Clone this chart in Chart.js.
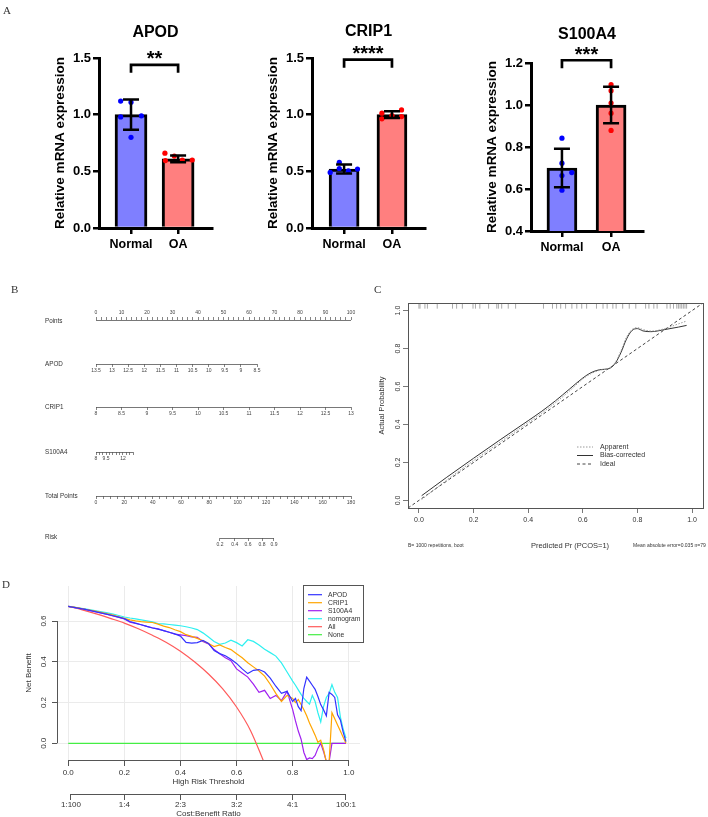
<!DOCTYPE html>
<html lang="en">
<head>
<meta charset="UTF-8">
<title>qPCR validation, nomogram, calibration and decision curves</title>
<script src="https://cdn.jsdelivr.net/npm/chart.js"></script>
<style>
  html, body { margin: 0; padding: 0; background: #fff; overflow: hidden; }
  body { width: 708px; height: 817px; position: relative; font-family: "Liberation Sans", Arial, sans-serif; }
  canvas { position: absolute; }
  .lbl { position: absolute; white-space: nowrap; line-height: 1; transform: translateY(-50%); color: #333; will-change: transform; }
  .panel { font-family: "Liberation Serif", "DejaVu Serif", serif; font-size: 11px; }
  .nomo { font-size: 6.3px; }
  .small { font-size: 5px; }
  .mid { transform: translate(-50%, -50%); }
</style>
</head>
<body>
  <div class="lbl panel" style="left:3px;top:10px">A</div>
  <div class="lbl panel" style="left:11px;top:289px">B</div>
  <div class="lbl panel" style="left:374px;top:289px">C</div>
  <div class="lbl panel" style="left:2px;top:584px">D</div>

  <div class="lbl nomo" style="left:45px;top:321px">Points</div>
  <div class="lbl nomo" style="left:45px;top:364px">APOD</div>
  <div class="lbl nomo" style="left:45px;top:407px">CRIP1</div>
  <div class="lbl nomo" style="left:45px;top:452px">S100A4</div>
  <div class="lbl nomo" style="left:45px;top:496px">Total Points</div>
  <div class="lbl nomo" style="left:45px;top:537px">Risk</div>

  <div class="lbl mid" style="left:570px;top:546px;font-size:7.5px">Predicted Pr (PCOS=1)</div>
  <div class="lbl small" style="left:408px;top:545px">B= 1000 repetitions, boot</div>
  <div class="lbl small" style="left:633px;top:545px">Mean absolute error=0.035 n=79</div>

<script>
Chart.defaults.font.family = "'Liberation Sans', Arial, sans-serif";
Chart.defaults.color = '#333';

// ---------- A: qPCR bars ----------
const groups = ['Normal', 'OA'];

const apodMean = [1.0, 0.61];
const apodSd = [0.133, 0.03];
const apodNormal = [1.12, 1.11, 0.98, 0.99, 0.80];
const apodOA = [0.66, 0.635, 0.595, 0.60, 0.60];

const crip1Mean = [0.52, 1.0];
const crip1Sd = [0.04, 0.03];
const crip1Normal = [0.49, 0.58, 0.525, 0.505, 0.52];
const crip1OA = [1.013, 0.963, 0.992, 1.042, 0.983];

const s100Mean = [0.70, 1.0];
const s100Sd = [0.092, 0.087];
const s100Normal = [0.842, 0.723, 0.664, 0.678, 0.594];
const s100OA = [1.097, 1.068, 1.009, 0.961, 0.879];

// sideways spread of the dots inside each bar
const apodJitter = [[-0.22, 0, -0.22, 0.22, 0], [-0.28, -0.08, -0.27, 0.09, 0.30]];
const crip1Jitter = [[-0.29, -0.1, -0.1, 0.09, 0.28], [-0.21, -0.21, 0, 0.2, 0.2]];
const s100Jitter = [[0, 0, 0, 0.2, 0], [0, 0, 0, 0, 0]];

const ticks15 = [0, 0.5, 1.0, 1.5];
const ticks12 = [0.4, 0.6, 0.8, 1.0, 1.2];

// ---------- B: nomogram axes ----------
const pointsLabels = [0, 10, 20, 30, 40, 50, 60, 70, 80, 90, 100];
const apodAxis = [13.5, 13, 12.5, 12, 11.5, 11, 10.5, 10, 9.5, 9, 8.5];
const crip1Axis = [8, 8.5, 9, 9.5, 10, 10.5, 11, 11.5, 12, 12.5, 13];
const s100Axis = [8, 8.5, 9, 9.5, 10, 10.5, 11, 11.5, 12, 12.5, 13, 13.5];
const s100AxisLabels = [8, 9.5, 12];
const totalLabels = [0, 20, 40, 60, 80, 100, 120, 140, 160, 180];
const riskLabels = [0.2, 0.4, 0.6, 0.8, 0.9];
const riskAtTotal = [87.5, 98, 107.3, 117.2, 125.6];

// ---------- C: calibration ----------
const calPred = [0.01, 0.1, 0.2, 0.3, 0.4, 0.45, 0.5, 0.55, 0.6, 0.63, 0.66, 0.7, 0.72, 0.74, 0.76, 0.78, 0.8, 0.82, 0.85, 0.9, 0.95, 0.98];
const calBias = [0.025, 0.12, 0.222, 0.322, 0.42, 0.47, 0.525, 0.585, 0.645, 0.673, 0.688, 0.697, 0.725, 0.78, 0.85, 0.895, 0.905, 0.893, 0.889, 0.9, 0.913, 0.922];
const calApparent = [0.005, 0.105, 0.21, 0.31, 0.41, 0.46, 0.515, 0.575, 0.64, 0.668, 0.685, 0.70, 0.73, 0.79, 0.86, 0.9, 0.91, 0.9, 0.892, 0.905, 0.93, 0.945];
const calRug = [0.0, 0.004, 0.022, 0.031, 0.067, 0.123, 0.138, 0.159, 0.198, 0.207, 0.223, 0.255, 0.285, 0.291, 0.303, 0.327, 0.354,
  0.456, 0.489, 0.504, 0.519, 0.537, 0.56, 0.578, 0.596, 0.614, 0.65, 0.674, 0.689, 0.71, 0.722, 0.746, 0.77, 0.794, 0.83, 0.842,
  0.86, 0.872, 0.908, 0.92, 0.932, 0.944, 0.95, 0.956, 0.962, 0.968, 0.974, 0.98];
const calTicks = [0, 0.2, 0.4, 0.6, 0.8, 1.0];

// ---------- D: decision curves ----------
const thresholds = [0, 0.02, 0.04, 0.06, 0.08, 0.10, 0.12, 0.14, 0.16, 0.18, 0.20, 0.22, 0.24, 0.26, 0.28, 0.30, 0.32, 0.34, 0.36, 0.38,
  0.40, 0.42, 0.44, 0.46, 0.48, 0.50, 0.52, 0.54, 0.56, 0.58, 0.60, 0.62, 0.64, 0.66, 0.68, 0.70, 0.72, 0.74, 0.76, 0.78, 0.80,
  0.81, 0.82, 0.83, 0.84, 0.85, 0.86, 0.87, 0.88, 0.89, 0.90, 0.91, 0.92, 0.93, 0.94, 0.95, 0.96, 0.97, 0.98, 0.99];
const nbApod = [0.672, 0.667, 0.662, 0.657, 0.651, 0.645, 0.639, 0.633, 0.626, 0.619,
  0.612, 0.598, 0.590, 0.582, 0.574, 0.566, 0.560, 0.553, 0.545, 0.537,
  0.526, 0.495, 0.492, 0.494, 0.505, 0.490, 0.455, 0.440, 0.430, 0.412,
  0.392, 0.365, 0.342, 0.358, 0.362, 0.350, 0.320, 0.280, 0.245, 0.255,
  0.205,
  0.220, 0.180, 0.160, 0.270, 0.325, 0.305, 0.285, 0.265, 0.230, 0.190,
  0.165, 0.135, 0.250, 0.240, 0.225, 0.140, 0.115, 0.055, 0.008];
const nbCrip1 = [0.672, 0.668, 0.663, 0.658, 0.653, 0.648, 0.642, 0.636, 0.629, 0.621,
  0.613, 0.606, 0.601, 0.597, 0.595, 0.593, 0.585, 0.575, 0.568, 0.557,
  0.548, 0.533, 0.525, 0.515, 0.503, 0.490, 0.475, 0.483, 0.470, 0.460,
  0.440, 0.420, 0.395, 0.375, 0.355, 0.330, 0.290, 0.245, 0.205, 0.235,
  0.220,
  0.200, 0.215, 0.190, 0.165, 0.135, 0.100, 0.070, 0.040, 0.005, 0.015,
  -0.030, -0.090, -0.090, 0.150, 0.120, 0.090, 0.060, 0.030, 0.000];
const nbS100 = [0.672, 0.667, 0.662, 0.657, 0.651, 0.645, 0.639, 0.632, 0.625, 0.618,
  0.610, 0.595, 0.588, 0.582, 0.574, 0.567, 0.562, 0.553, 0.545, 0.536,
  0.532, 0.528, 0.522, 0.520, 0.500, 0.488, 0.460, 0.440, 0.420, 0.405,
  0.365, 0.345, 0.325, 0.290, 0.250, 0.260, 0.220, 0.235, 0.210, 0.255,
  0.165,
  0.110, 0.060, 0.020, -0.045, -0.080, -0.072, -0.075, -0.060, -0.025, 0.000,
  -0.040, -0.090, -0.090, 0.000, 0.000, 0.000, 0.000, 0.000, 0.000];
const nbNomogram = [0.672, 0.668, 0.664, 0.660, 0.655, 0.650, 0.645, 0.640, 0.634, 0.627,
  0.620, 0.615, 0.611, 0.606, 0.601, 0.596, 0.588, 0.586, 0.583, 0.580,
  0.577, 0.572, 0.566, 0.558, 0.542, 0.522, 0.500, 0.486, 0.492, 0.506,
  0.494, 0.478, 0.508, 0.500, 0.482, 0.462, 0.445, 0.428, 0.395, 0.350,
  0.305,
  0.285, 0.262, 0.240, 0.220, 0.205, 0.192, 0.235, 0.205, 0.150, 0.105,
  0.180, 0.225, 0.245, 0.288, 0.250, 0.225, 0.130, 0.070, 0.025];
const allT = [0, 0.05, 0.10, 0.15, 0.20, 0.25, 0.30, 0.35, 0.40, 0.45, 0.50, 0.55, 0.60, 0.65, 0.70];
const nbAll = [0.672, 0.655, 0.635, 0.613, 0.590, 0.562, 0.530, 0.495, 0.452, 0.400, 0.340, 0.268, 0.178, 0.062, -0.100];
const noneT = [0, 0.99];
const nbNone = [0, 0];
const dcaXTicks = [0, 0.2, 0.4, 0.6, 0.8, 1.0];
const dcaYTicks = [0, 0.2, 0.4, 0.6];
const ratioAt = [0.0099, 0.2, 0.4, 0.6, 0.8, 0.99];
const ratioLabels = ['1:100', '1:4', '2:3', '3:2', '4:1', '100:1'];

// ---------- helpers ----------
function makeCanvas(left, top, w, h) {
  const c = document.createElement('canvas');
  c.width = w; c.height = h;
  c.style.left = left + 'px'; c.style.top = top + 'px';
  c.style.width = w + 'px'; c.style.height = h + 'px';
  document.body.appendChild(c);
  return c;
}
const setTicks = vals => s => { s.ticks = vals.map(v => ({ value: v })); };
const pairs = (xs, ys) => xs.map((x, i) => ({ x: x, y: ys[i] }));
function steps(a, b, d) { const out = []; for (let v = a; v <= b; v += d) out.push(v); return out; }

// error bars, significance bracket and gene title
const qpcrMarks = {
  id: 'qpcrMarks',
  afterDraw(chart, args, o) {
    if (!o.mean) return;
    const { ctx, chartArea: a } = chart;
    const xs = chart.scales.x, ys = chart.scales.y;
    ctx.save();
    ctx.strokeStyle = '#000'; ctx.fillStyle = '#000'; ctx.lineWidth = 2.5;
    o.mean.forEach((m, i) => {
      const px = xs.getPixelForValue(i);
      const hi = ys.getPixelForValue(m + o.sd[i]);
      const lo = ys.getPixelForValue(m - o.sd[i]);
      ctx.beginPath();
      ctx.moveTo(px, hi); ctx.lineTo(px, lo);
      ctx.moveTo(px - 8, hi); ctx.lineTo(px + 8, hi);
      ctx.moveTo(px - 8, lo); ctx.lineTo(px + 8, lo);
      ctx.stroke();
    });
    const x0 = xs.getPixelForValue(0), x1 = xs.getPixelForValue(1);
    const by = ys.getPixelForValue(o.bracket);
    ctx.lineWidth = 2.7;
    ctx.beginPath();
    ctx.moveTo(x0, by + 8); ctx.lineTo(x0, by); ctx.lineTo(x1, by); ctx.lineTo(x1, by + 8);
    ctx.stroke();
    ctx.textAlign = 'center';
    ctx.textBaseline = 'alphabetic';
    ctx.font = "bold 20px 'Liberation Sans', Arial";
    ctx.fillText(o.stars, (x0 + x1) / 2, by + 0.5);
    ctx.textBaseline = 'middle';
    ctx.font = "bold 16px 'Liberation Sans', Arial";
    ctx.fillText(o.title, (a.left + a.right) / 2, a.top - o.titleGap);
    ctx.restore();
  }
};

// R style axis line: only from first to last tick
const rAxis = {
  id: 'rAxis',
  afterDraw(chart, args, o) {
    if (!o.scales) return;
    const ctx = chart.ctx;
    ctx.save();
    ctx.strokeStyle = o.color || '#555';
    ctx.lineWidth = o.width || 1;
    o.scales.forEach(id => {
      const s = chart.scales[id];
      const px = s.ticks.map(t => s.getPixelForValue(t.value));
      const a = Math.min(...px), b = Math.max(...px);
      ctx.beginPath();
      if (s.isHorizontal()) {
        const y = Math.round(s.position === 'top' ? s.bottom : s.top) + 0.5;
        ctx.moveTo(a, y); ctx.lineTo(b, y);
      } else {
        const x = Math.round(s.right) + 0.5;
        ctx.moveTo(x, a); ctx.lineTo(x, b);
      }
      ctx.stroke();
    });
    ctx.restore();
  }
};

// y tick labels written along the axis (R las=0)
const rotY = {
  id: 'rotY',
  afterDraw(chart, args, o) {
    if (!o.scale) return;
    const s = chart.scales[o.scale], ctx = chart.ctx;
    ctx.save();
    ctx.font = o.font; ctx.fillStyle = '#333';
    ctx.textAlign = 'center'; ctx.textBaseline = 'middle';
    s.ticks.forEach(t => {
      ctx.save();
      ctx.translate(chart.chartArea.left - o.gap, s.getPixelForValue(t.value));
      ctx.rotate(-Math.PI / 2);
      ctx.fillText(t.value.toFixed(1), 0, 0);
      ctx.restore();
    });
    ctx.restore();
  }
};

const boxLegend = {
  id: 'boxLegend',
  afterDraw(chart, args, o) {
    const { ctx, chartArea: a } = chart;
    ctx.save();
    if (o.frame) {
      ctx.strokeStyle = '#555'; ctx.lineWidth = 1;
      ctx.strokeRect(Math.round(a.left) + 0.5, Math.round(a.top) + 0.5, Math.round(a.right - a.left), Math.round(a.bottom - a.top));
    }
    if (o.rows) {
      const ox = a.left + o.x, oy = a.top + o.y;
      if (o.w) {
        ctx.fillStyle = '#fff'; ctx.fillRect(ox, oy, o.w, o.h);
        ctx.strokeStyle = '#555'; ctx.lineWidth = 1;
        ctx.strokeRect(Math.round(ox) + 0.5, Math.round(oy) + 0.5, o.w, o.h);
      }
      ctx.font = o.font; ctx.textBaseline = 'middle'; ctx.textAlign = 'left';
      o.rows.forEach((di, k) => {
        const ds = chart.data.datasets[di];
        const y = oy + o.r0 + k * o.step;
        ctx.strokeStyle = ds.borderColor; ctx.lineWidth = ds.borderWidth;
        ctx.setLineDash(ds.borderDash || []);
        ctx.beginPath(); ctx.moveTo(ox + o.l0, y); ctx.lineTo(ox + o.l1, y); ctx.stroke();
        ctx.setLineDash([]);
        ctx.fillStyle = '#333';
        ctx.fillText(ds.label, ox + o.tx, y);
      });
    }
    ctx.restore();
  }
};

const base = { responsive: false, animation: false, devicePixelRatio: 1, events: [] };

// ---------- A ----------
function qpcrChart(box, g) {
  const c = makeCanvas(box.left, box.top, box.w, box.h);
  const axisFont = { size: 13, weight: 'bold' };
  const blackGrid = { drawOnChartArea: false, tickLength: 6, lineWidth: 2.5, color: '#000', offset: false };
  const blackBorder = { width: 3, color: '#000' };
  return new Chart(c, {
    type: 'scatter',
    data: {
      datasets: [
        { type: 'bar', data: pairs([0, 1], g.mean), backgroundColor: ['#7f7fff', '#ff7f7f'],
          borderColor: '#000', borderWidth: 3, barThickness: box.bar, order: 3 },
        { data: g.normal.map((v, i) => ({ x: 0 + g.jitter[0][i], y: v })), backgroundColor: '#0000ff',
          borderWidth: 0, pointRadius: 2.6, order: 1 },
        { data: g.oa.map((v, i) => ({ x: 1 + g.jitter[1][i], y: v })), backgroundColor: '#ff0000',
          borderWidth: 0, pointRadius: 2.6, order: 2 }
      ]
    },
    options: Object.assign({}, base, {
      layout: { padding: box.pad },
      plugins: {
        legend: { display: false }, tooltip: { enabled: false },
        qpcrMarks: { mean: g.mean, sd: g.sd, bracket: g.bracket, stars: g.stars, title: g.title, titleGap: box.titleGap }
      },
      scales: {
        x: {
          type: 'linear', offset: false, min: box.xmin, max: box.xmax,
          afterBuildTicks: setTicks([0, 1]),
          afterFit: s => { s.height = box.xh; },
          ticks: { callback: v => groups[v], font: { size: 12.5, weight: 'bold' }, color: '#000', padding: 3, autoSkip: false, maxRotation: 0 },
          grid: blackGrid, border: blackBorder
        },
        y: {
          min: g.ymin, max: g.ymax,
          afterBuildTicks: setTicks(g.yticks),
          afterFit: s => { s.width = 47.1; },
          ticks: { callback: v => v.toFixed(1), font: axisFont, color: '#000', padding: 2 },
          grid: blackGrid, border: blackBorder,
          title: { display: true, text: 'Relative mRNA expression', font: { size: 13.5, weight: 'bold' }, color: '#000', padding: 0 }
        }
      }
    }),
    plugins: [qpcrMarks]
  });
}

qpcrChart({ left: 45, top: 20, w: 180, h: 245, pad: { left: 6.9, top: 38, right: 13, bottom: 0 }, xh: 37,
  xmin: -0.68, xmax: 1.72, bar: 32, titleGap: 25 },
  { title: 'APOD', mean: apodMean, sd: apodSd, normal: apodNormal, oa: apodOA, jitter: apodJitter,
    ymin: 0, ymax: 1.5, yticks: ticks15, bracket: 1.44, stars: '**' });

qpcrChart({ left: 255, top: 20, w: 185, h: 245, pad: { left: 9.9, top: 38, right: 15, bottom: 0 }, xh: 37,
  xmin: -0.67, xmax: 1.69, bar: 30, titleGap: 26 },
  { title: 'CRIP1', mean: crip1Mean, sd: crip1Sd, normal: crip1Normal, oa: crip1OA, jitter: crip1Jitter,
    ymin: 0, ymax: 1.5, yticks: ticks15, bracket: 1.485, stars: '****' });

qpcrChart({ left: 475, top: 20, w: 190, h: 245, pad: { left: 8.9, top: 43, right: 22, bottom: 0 }, xh: 34,
  xmin: -0.63, xmax: 1.65, bar: 30, titleGap: 28 },
  { title: 'S100A4', mean: s100Mean, sd: s100Sd, normal: s100Normal, oa: s100OA, jitter: s100Jitter,
    ymin: 0.4, ymax: 1.2, yticks: ticks12, bracket: 1.213, stars: '***' });

// ---------- B ----------
function nomoRow(r) {
  const H = 16, A = 4;
  const c = makeCanvas(86, r.top ? r.line - H : r.line - A, 280, H + A);
  new Chart(c, {
    type: 'scatter',
    data: { datasets: [] },
    options: Object.assign({}, base, {
      layout: { padding: { left: r.left - 86, right: 366 - r.right, top: 0, bottom: 0 } },
      plugins: { legend: { display: false }, tooltip: { enabled: false }, rAxis: { scales: ['x'], color: '#555', width: 0.8 } },
      scales: {
        x: {
          type: 'linear', position: r.top ? 'top' : 'bottom', min: r.min, max: r.max, reverse: !!r.reverse,
          afterBuildTicks: setTicks(r.ticks),
          afterFit: s => { s.height = H; },
          ticks: { autoSkip: false, maxRotation: 0, minRotation: 0, padding: 1, font: { size: 5 }, color: '#444', callback: r.label },
          grid: { drawOnChartArea: false, tickLength: 3, color: '#666', lineWidth: 0.8 },
          border: { display: false }
        },
        y: { display: false }
      }
    }),
    plugins: [rAxis]
  });
}

nomoRow({ line: 320, left: 96, right: 351, min: 0, max: 100, top: true, ticks: steps(0, 100, 2),
  label: v => pointsLabels.includes(v) ? String(v) : '' });
nomoRow({ line: 364, left: 96, right: 257, min: 8.5, max: 13.5, reverse: true, ticks: apodAxis, label: v => String(v) });
nomoRow({ line: 407, left: 96, right: 351, min: 8, max: 13, ticks: crip1Axis, label: v => String(v) });
nomoRow({ line: 452, left: 96, right: 133, min: 8, max: 13.5, ticks: s100Axis,
  label: v => s100AxisLabels.includes(v) ? String(v) : '' });
nomoRow({ line: 496, left: 96, right: 351, min: 0, max: 180, ticks: steps(0, 180, 5),
  label: v => totalLabels.includes(v) ? String(v) : '' });
nomoRow({ line: 538, left: 96, right: 351, min: 0, max: 180, ticks: riskAtTotal, label: (v, i) => String(riskLabels[i]) });

// ---------- C ----------
(function () {
  const c = makeCanvas(370, 295, 338, 260);
  const thin = { drawOnChartArea: false, tickLength: 5, color: '#555', lineWidth: 0.8 };
  new Chart(c, {
    type: 'scatter',
    data: {
      datasets: [
        { label: 'Apparent', data: pairs(calPred, calApparent), showLine: true, borderColor: '#9a9a9a', borderWidth: 1,
          borderDash: [1.5, 1.5], pointRadius: 0, cubicInterpolationMode: 'monotone' },
        { label: 'Bias-corrected', data: pairs(calPred, calBias), showLine: true, borderColor: '#333', borderWidth: 1,
          pointRadius: 0, cubicInterpolationMode: 'monotone' },
        { label: 'Ideal', data: pairs([-0.04, 1.04], [-0.04, 1.04]), showLine: true, borderColor: '#444', borderWidth: 1,
          borderDash: [3, 2.5], pointRadius: 0 },
        { label: 'rug', data: calRug.map(v => ({ x: v, y: 1.026 })), pointStyle: 'line', rotation: 90, pointRadius: 3,
          borderColor: '#aaa', borderWidth: 1 }
      ]
    },
    options: Object.assign({}, base, {
      layout: { padding: { left: 7.5, top: 8, right: 1, bottom: 0 } },
      plugins: {
        legend: { display: false }, tooltip: { enabled: false },
        rotY: { scale: 'y', gap: 10, font: "7px 'Liberation Sans', Arial" },
        boxLegend: { frame: true, rows: [0, 1, 2], x: 169, y: 140, r0: 4, step: 8.5, l0: 0, l1: 16, tx: 23,
          font: "7px 'Liberation Sans', Arial" }
      },
      scales: {
        x: {
          type: 'linear', min: -0.04, max: 1.04,
          afterBuildTicks: setTicks(calTicks),
          afterFit: s => { s.height = 47; },
          ticks: { callback: v => v.toFixed(1), font: { size: 7 }, color: '#333', padding: 3, maxRotation: 0, autoSkip: false },
          grid: thin, border: { color: '#555', width: 1 }
        },
        y: {
          type: 'linear', min: -0.04, max: 1.04,
          afterBuildTicks: setTicks(calTicks),
          afterFit: s => { s.width = 30.5; },
          ticks: { display: false },
          grid: thin, border: { color: '#555', width: 1 },
          title: { display: true, text: 'Actual Probability', font: { size: 7.5 }, color: '#333', padding: 0 }
        }
      }
    }),
    plugins: [rotY, boxLegend]
  });
})();

// ---------- D ----------
(function () {
  const c = makeCanvas(15, 578, 350, 242);
  const curve = (label, xs, ys, color) => ({ label: label, data: pairs(xs, ys), showLine: true, borderColor: color,
    borderWidth: 1.2, pointRadius: 0 });
  const all = curve('All', allT, nbAll, '#ff5a5a');
  all.cubicInterpolationMode = 'monotone';
  new Chart(c, {
    type: 'scatter',
    data: {
      datasets: [
        curve('APOD', thresholds, nbApod, '#3333ff'),
        curve('CRIP1', thresholds, nbCrip1, '#ffa500'),
        curve('S100A4', thresholds, nbS100, '#a020f0'),
        curve('nomogram', thresholds, nbNomogram, '#2ef0f0'),
        all,
        curve('None', noneT, nbNone, '#44ee44')
      ]
    },
    options: Object.assign({}, base, {
      layout: { padding: { left: 9.2, top: 8, right: 5, bottom: 0 } },
      plugins: {
        legend: { display: false }, tooltip: { enabled: false },
        rAxis: { scales: ['x', 'x2', 'y'], color: '#555', width: 1 },
        rotY: { scale: 'y', gap: 13.7, font: "8px 'Liberation Sans', Arial" },
        boxLegend: { rows: [0, 1, 2, 3, 4, 5], x: 246, y: -1, w: 60, h: 57, r0: 9.7, step: 8, l0: 5, l1: 19, tx: 25,
          font: "6.8px 'Liberation Sans', Arial" }
      },
      scales: {
        x: {
          type: 'linear', position: 'bottom', weight: 0, min: -0.04, max: 1.04,
          afterBuildTicks: setTicks(dcaXTicks),
          afterFit: s => { s.height = 34; },
          ticks: { callback: v => v.toFixed(1), font: { size: 8 }, color: '#333', padding: 2, maxRotation: 0, autoSkip: false },
          grid: { color: '#ebebeb', tickColor: '#555', tickLength: 6, lineWidth: 1 },
          border: { display: false },
          title: { display: true, text: 'High Risk Threshold', font: { size: 8 }, color: '#333', padding: { top: 0, bottom: 7.2 } }
        },
        x2: {
          type: 'linear', position: 'bottom', weight: 1, min: -0.04, max: 1.04,
          afterBuildTicks: setTicks(ratioAt),
          afterFit: s => { s.height = 26; },
          ticks: { callback: (v, i) => ratioLabels[i], font: { size: 8 }, color: '#333', padding: 0, maxRotation: 0, autoSkip: false },
          grid: { drawOnChartArea: false, color: '#555', tickLength: 6, lineWidth: 1 },
          border: { display: false },
          title: { display: true, text: 'Cost:Benefit Ratio', font: { size: 8 }, color: '#333', padding: { top: 0, bottom: 1.2 } }
        },
        y: {
          type: 'linear', min: -0.082, max: 0.772,
          afterBuildTicks: setTicks(dcaYTicks),
          afterFit: s => { s.width = 32.8; },
          ticks: { display: false },
          grid: { color: '#ebebeb', tickColor: '#555', tickLength: 5, lineWidth: 1 },
          border: { display: false },
          title: { display: true, text: 'Net Benefit', font: { size: 8 }, color: '#333', padding: 0 }
        }
      }
    }),
    plugins: [rAxis, rotY, boxLegend]
  });
})();
</script>
</body>
</html>
